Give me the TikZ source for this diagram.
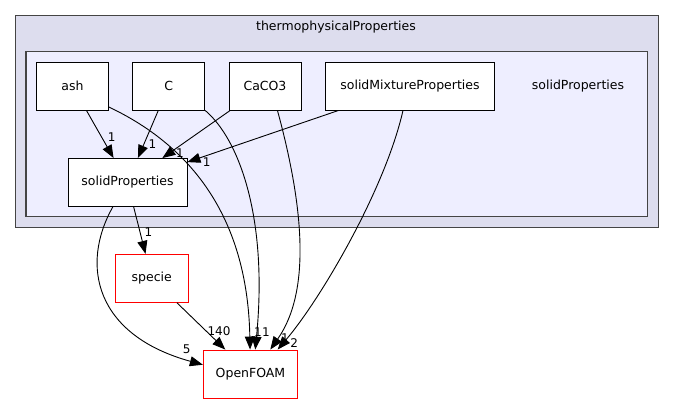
\documentclass[tikz,border=0pt]{standalone}
\usepackage{fontspec}
\setmainfont{DejaVu Sans}
\usetikzlibrary{arrows.meta}

\definecolor{outerfill}{HTML}{DDDDEE}
\definecolor{innerfill}{HTML}{EEEEFF}
\definecolor{clusterline}{HTML}{444444}

\begin{document}
\begin{tikzpicture}[x=1pt, y=-1pt, >={Triangle[length=13pt, width=10pt]},
    dirbox/.style={draw=black, fill=white, line width=0.9pt, inner sep=0pt,
        minimum height=48pt, font=\fontsize{12.5}{15}\selectfont},
    extbox/.style={dirbox, draw=red},
    dep/.style={->, line width=0.9pt},
    cnt/.style={inner sep=0pt, font=\fontsize{12}{14}\selectfont}]
    \useasboundingbox (0,0) rectangle (675,404);

    % clusters
    \draw[clusterline, fill=outerfill, line width=1.2pt] (15.3,15.3) rectangle (658.3,227.7);
    \node[dirbox, draw=none, fill=none] (thermoLbl) at (336,27.5) {thermophysicalProperties};
    \draw[clusterline, fill=innerfill, line width=1.2pt] (26,51.7) rectangle (647.7,216.7);
    \node[dirbox, draw=none, fill=none] (solidLbl) at (578,86) {solidProperties};

    % directories
    \node[dirbox, minimum width=72pt] (ash) at (72.5,86) {ash};
    \node[dirbox, minimum width=72pt] (C) at (168.75,86) {C};
    \node[dirbox, minimum width=72pt] (CaCO3) at (265,86) {CaCO3};
    \node[dirbox, minimum width=169pt] (solidMix) at (410,86) {solidMixtureProperties};
    \node[dirbox, minimum width=119pt] (solidProps) at (127.5,182.5) {solidProperties};
    \node[extbox, minimum width=72.5pt] (specie) at (151.7,278.3) {specie};
    \node[extbox, minimum width=94.4pt] (openfoam) at (250.5,374) {OpenFOAM};

    % dependencies
    \draw[dep] (ash) -- (solidProps);
    \draw[dep] (C) -- (solidProps);
    \draw[dep] (CaCO3) -- (solidProps);
    \draw[dep] (solidMix) -- (solidProps);
    \draw[dep] (solidProps) -- (specie);
    \draw[dep] (specie) -- (openfoam);

    \draw[dep] (ash.-30) .. controls (210,155) and (248,240) .. (openfoam.91);
    \draw[dep] (C.south east) .. controls (240,140) and (268,220) .. (openfoam.79);
    \draw[dep] (CaCO3.-63) .. controls (310,230) and (305,300) .. (openfoam.51);
    \draw[dep] (solidMix.-106) .. controls (385,190) and (320,300) .. (openfoam.42);
    \draw[dep] (solidProps.-121) .. controls (80,265) and (95,335) .. (openfoam.169);

    % counts
    \node[cnt] (nAsh) at (111.7,137.5) {1};
    \node[cnt] (nC) at (152.5,144.5) {1};
    \node[cnt] (nCaCO3) at (180,153.3) {1};
    \node[cnt] (nMix) at (206.7,162) {1};
    \node[cnt] (nSpecie) at (148.4,232.5) {1};
    \node[cnt] (nSpecieOF) at (219,330.7) {140};
    \node[cnt] (nSolidOF) at (186.7,349.3) {5};
    \node[cnt] (nAshOF) at (258,332) {1};
    \node[cnt] (nCOF) at (266,332) {1};
    \node[cnt] (nCaCO3OF) at (285,338) {1};
    \node[cnt] (nMixOF) at (294.3,342.7) {2};
\end{tikzpicture}
\end{document}
